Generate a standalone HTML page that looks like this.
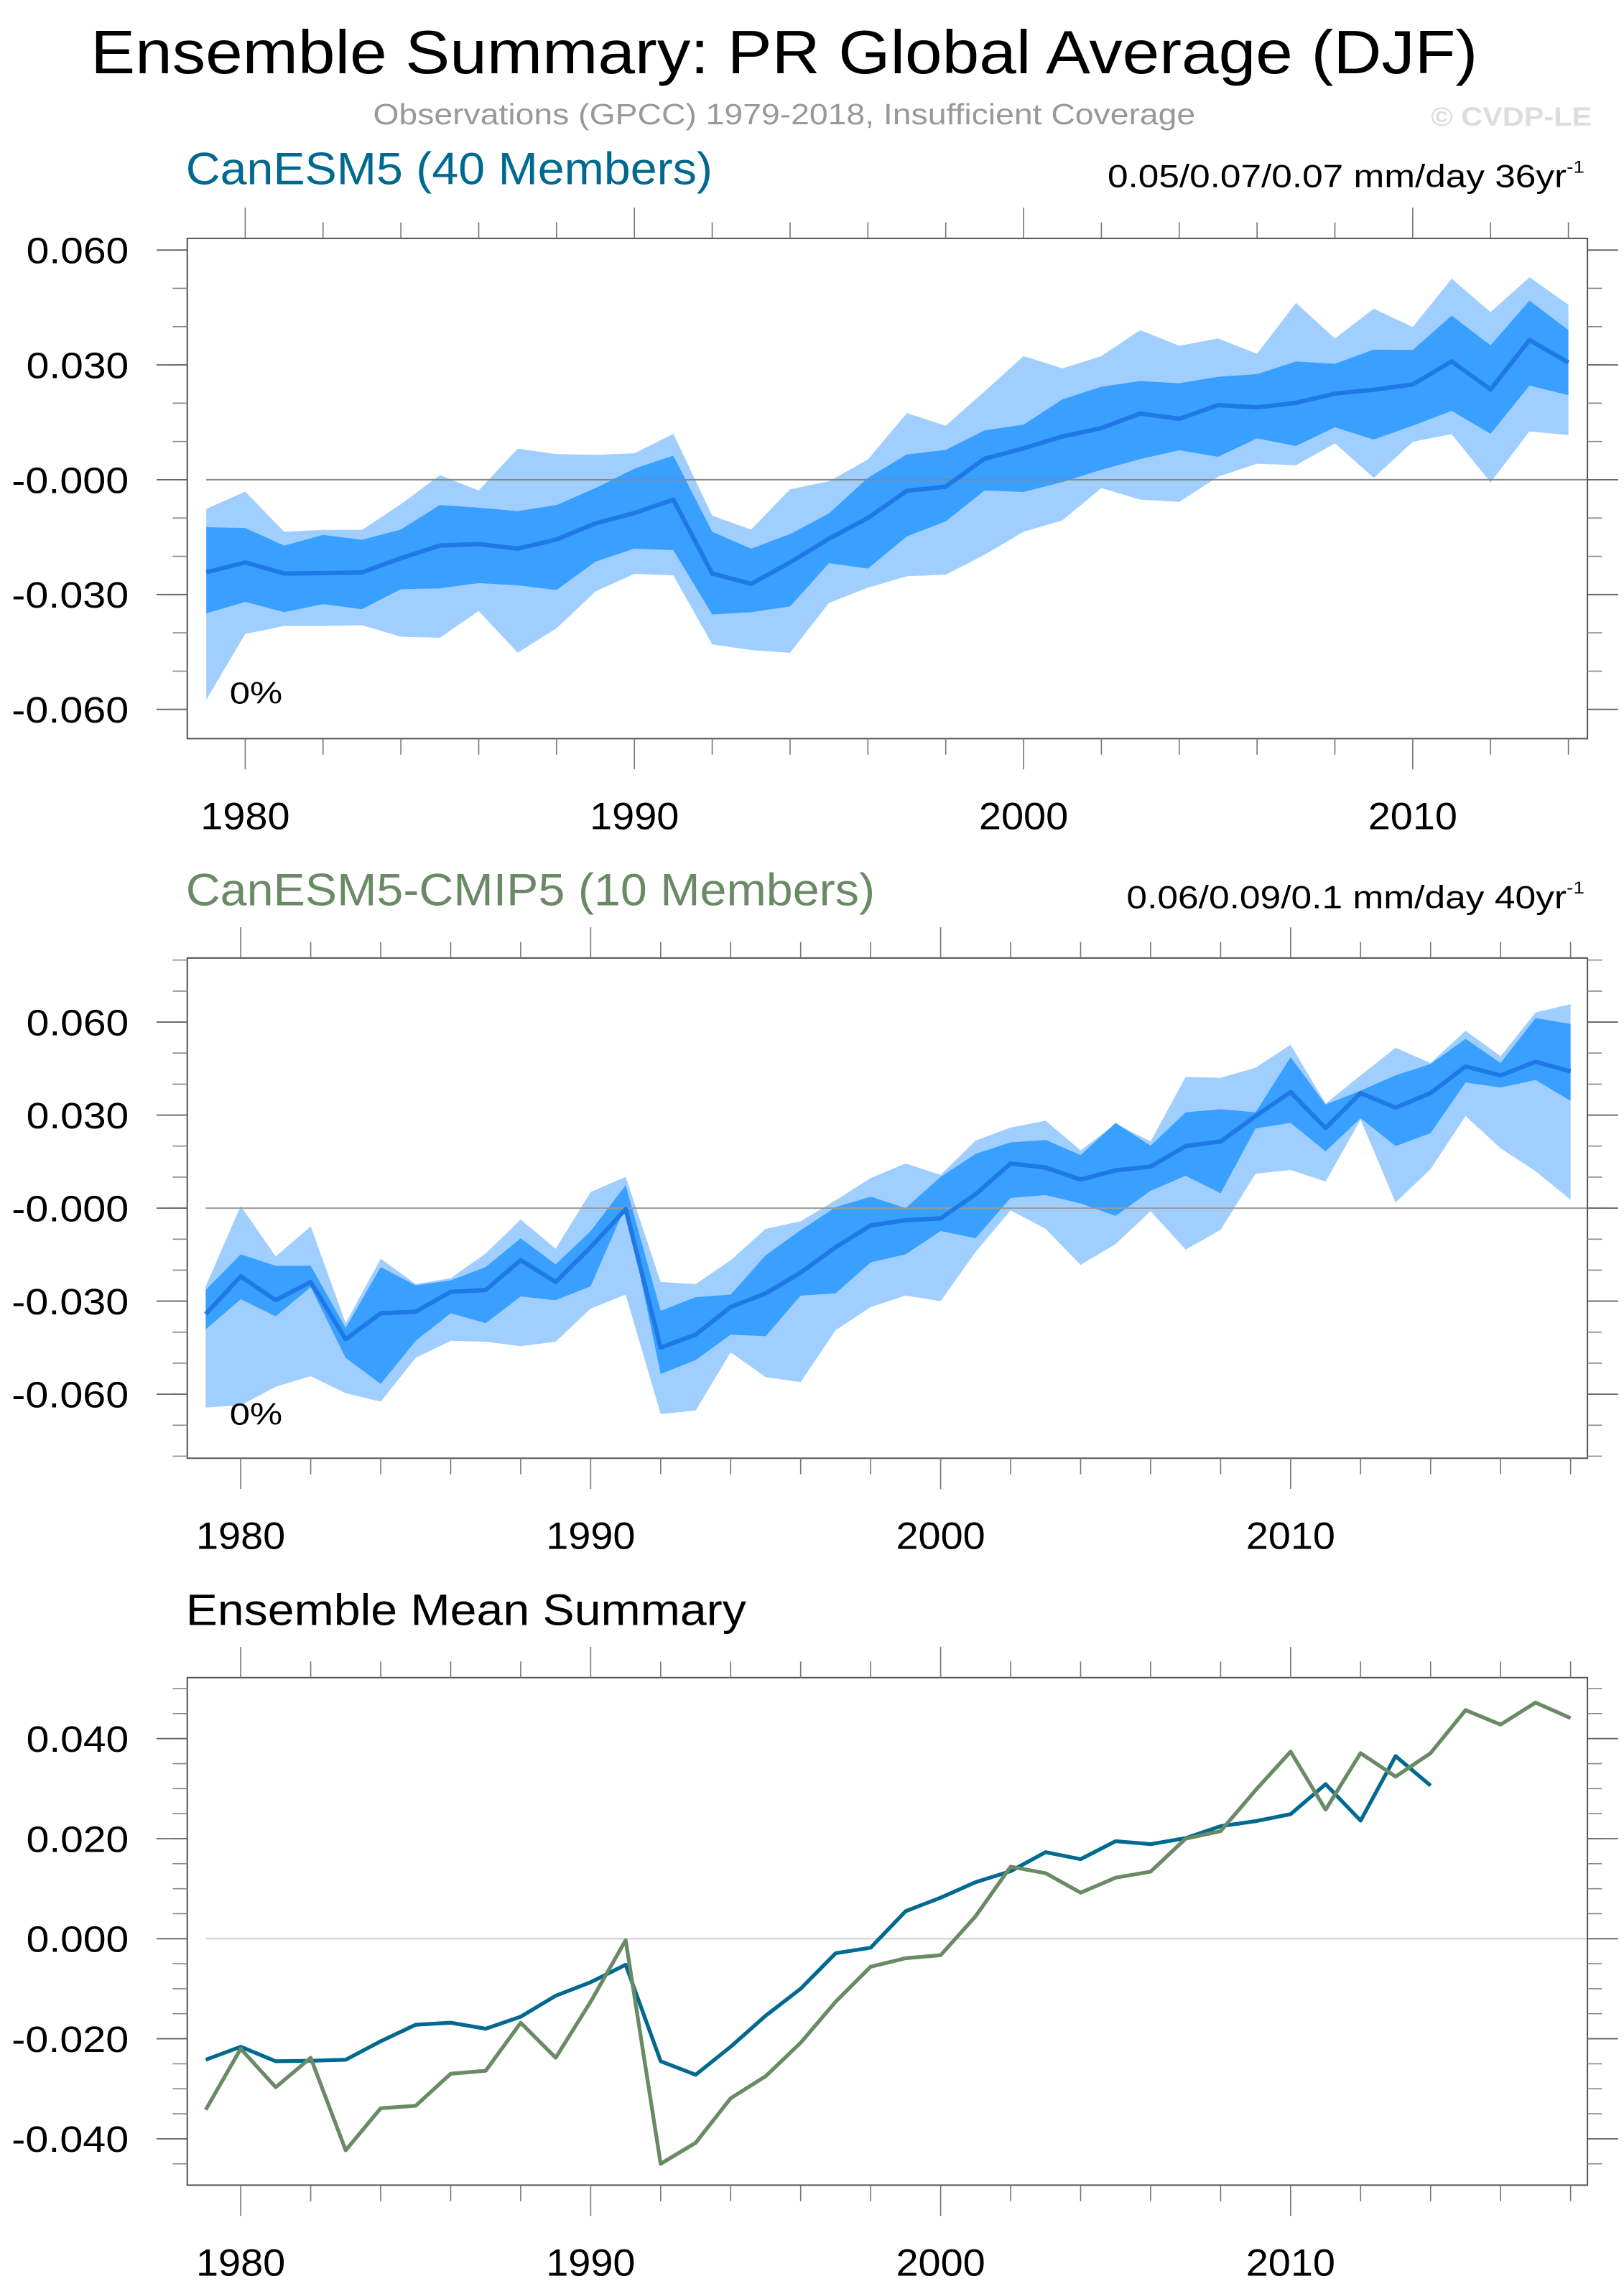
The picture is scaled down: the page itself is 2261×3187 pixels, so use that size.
<!DOCTYPE html>
<html><head><meta charset="utf-8"><style>
html,body{margin:0;padding:0;background:#fff}
svg{display:block}
text{font-family:"Liberation Sans",sans-serif}
</style></head><body>
<svg id="s" width="2261" height="3187" viewBox="0 0 1110 1565" preserveAspectRatio="none" xmlns="http://www.w3.org/2000/svg">
<text x="536" y="50" font-size="42" text-anchor="middle" textLength="948" lengthAdjust="spacingAndGlyphs">Ensemble Summary: PR Global Average (DJF)</text>
<text x="536" y="85" font-size="20" fill="#999" text-anchor="middle" textLength="562" lengthAdjust="spacingAndGlyphs">Observations (GPCC) 1979-2018, Insufficient Coverage</text>
<text x="1088" y="86" font-size="18" fill="#ddd" font-weight="bold" text-anchor="end" textLength="110" lengthAdjust="spacingAndGlyphs">© CVDP-LE</text>
<text x="127" y="126" font-size="31" fill="#00698f" textLength="360" lengthAdjust="spacingAndGlyphs">CanESM5 (40 Members)</text>
<text x="1083" y="128" font-size="22" text-anchor="end" textLength="326" lengthAdjust="spacingAndGlyphs">0.05/0.07/0.07 mm/day 36yr<tspan font-size="12" dy="-10">-1</tspan></text>
<text x="127" y="619" font-size="31" fill="#6a8a66" textLength="471" lengthAdjust="spacingAndGlyphs">CanESM5-CMIP5 (10 Members)</text>
<text x="1083" y="621" font-size="22" text-anchor="end" textLength="313" lengthAdjust="spacingAndGlyphs">0.06/0.09/0.1 mm/day 40yr<tspan font-size="12" dy="-10">-1</tspan></text>
<text x="127" y="1111" font-size="30" textLength="383" lengthAdjust="spacingAndGlyphs">Ensemble Mean Summary</text>
</svg>
<script>
const yearsA=[1979,1980,1981,1982,1983,1984,1985,1986,1987,1988,1989,1990,1991,1992,1993,1994,1995,1996,1997,1998,1999,2000,2001,2002,2003,2004,2005,2006,2007,2008,2009,2010,2011,2012,2013,2014];
const yearsB=[1979,1980,1981,1982,1983,1984,1985,1986,1987,1988,1989,1990,1991,1992,1993,1994,1995,1996,1997,1998,1999,2000,2001,2002,2003,2004,2005,2006,2007,2008,2009,2010,2011,2012,2013,2014,2015,2016,2017,2018];
const meanA=[-0.0242,-0.0216,-0.0245,-0.0244,-0.0242,-0.0205,-0.0172,-0.0168,-0.018,-0.0156,-0.0114,-0.0087,-0.0052,-0.0245,-0.0272,-0.0216,-0.0154,-0.01,-0.0029,-0.0018,0.0055,0.0082,0.0113,0.0135,0.0173,0.0159,0.0195,0.0189,0.0201,0.0225,0.0235,0.0249,0.0309,0.0236,0.0365,0.0306];
const darkHiA=[-0.0124,-0.0126,-0.0172,-0.0144,-0.0157,-0.0130,-0.0066,-0.0073,-0.0082,-0.0066,-0.0022,0.0029,0.0063,-0.0136,-0.0180,-0.0142,-0.0088,0.0005,0.0066,0.0078,0.0129,0.0144,0.0210,0.0243,0.0258,0.0252,0.0269,0.0276,0.0309,0.0303,0.0340,0.0339,0.0429,0.0351,0.0468,0.0391];
const darkLoA=[-0.0349,-0.0319,-0.0346,-0.0325,-0.0338,-0.0286,-0.0284,-0.0270,-0.0276,-0.0288,-0.0214,-0.0180,-0.0184,-0.0352,-0.0346,-0.0331,-0.0218,-0.0232,-0.0148,-0.0109,-0.0028,-0.0032,-0.0006,0.0026,0.0054,0.0077,0.0060,0.0108,0.0088,0.0137,0.0105,0.0141,0.0180,0.0120,0.0246,0.0221];
const lightHiA=[-0.0076,-0.0031,-0.0136,-0.0131,-0.0131,-0.0064,0.0012,-0.0028,0.0081,0.0067,0.0065,0.0069,0.0120,-0.0094,-0.0130,-0.0025,-0.0004,0.0053,0.0174,0.0141,0.0231,0.0323,0.0291,0.0323,0.0391,0.0350,0.0369,0.0329,0.0462,0.0369,0.0447,0.0399,0.0525,0.0438,0.0529,0.0457];
const lightLoA=[-0.0575,-0.0403,-0.0382,-0.0382,-0.0380,-0.0410,-0.0413,-0.0343,-0.0452,-0.0388,-0.0292,-0.0246,-0.0250,-0.0430,-0.0445,-0.0452,-0.0322,-0.0282,-0.0252,-0.0248,-0.0196,-0.0136,-0.0106,-0.0022,-0.0052,-0.0058,0.0008,0.0042,0.0038,0.0095,0.0005,0.0099,0.0119,-0.0007,0.0126,0.0117];
const meanB=[-0.0342,-0.0220,-0.0297,-0.0238,-0.0423,-0.0339,-0.0334,-0.0270,-0.0264,-0.0168,-0.0238,-0.0126,-0.0003,-0.0450,-0.0408,-0.0319,-0.0275,-0.0208,-0.0126,-0.0056,-0.0039,-0.0033,0.0045,0.0144,0.0131,0.0092,0.0122,0.0134,0.0200,0.0215,0.0297,0.0374,0.0258,0.0371,0.0324,0.0371,0.0457,0.0428,0.0472,0.0441];
const darkHiB=[-0.0264,-0.0149,-0.0186,-0.0186,-0.0386,-0.0190,-0.0249,-0.0233,-0.0190,-0.0097,-0.0181,-0.0074,0.0074,-0.0331,-0.0287,-0.0279,-0.0152,-0.0071,0.0003,0.0037,0.0000,0.0101,0.0175,0.0212,0.0220,0.0171,0.0275,0.0201,0.0309,0.0319,0.0309,0.0487,0.0334,0.0379,0.0428,0.0465,0.0546,0.0468,0.0613,0.0594];
const darkLoB=[-0.0391,-0.0294,-0.0349,-0.0255,-0.0483,-0.0567,-0.0428,-0.0339,-0.0371,-0.0285,-0.0297,-0.0252,0.0007,-0.0535,-0.0490,-0.0408,-0.0413,-0.0282,-0.0275,-0.0175,-0.0149,-0.0074,-0.0097,0.0033,0.0042,0.0015,-0.0025,0.0056,0.0104,0.0048,0.0257,0.0275,0.0183,0.0290,0.0200,0.0242,0.0405,0.0389,0.0413,0.0346];
const lightHiB=[-0.0252,0.0007,-0.0156,-0.0059,-0.0371,-0.0163,-0.0245,-0.0226,-0.0146,-0.0037,-0.0131,0.0052,0.0101,-0.0238,-0.0245,-0.0168,-0.0067,-0.0042,0.0025,0.0097,0.0144,0.0107,0.0218,0.0260,0.0282,0.0186,0.0272,0.0215,0.0423,0.0420,0.0453,0.0527,0.0337,0.0428,0.0517,0.0468,0.0572,0.0490,0.0631,0.0658];
const lightLoB=[-0.0643,-0.0636,-0.0576,-0.0542,-0.0597,-0.0624,-0.0483,-0.0428,-0.0431,-0.0445,-0.0431,-0.0324,-0.0279,-0.0664,-0.0653,-0.0465,-0.0545,-0.0561,-0.0394,-0.0319,-0.0282,-0.0300,-0.0141,-0.0007,-0.0067,-0.0183,-0.0116,-0.0010,-0.0134,-0.0070,0.0111,0.0123,0.0086,0.0285,0.0018,0.0126,0.0297,0.0193,0.0119,0.0027];
const yTicks12=[-0.06,-0.03,0,0.03,0.06];
const yTickLabels12=["-0.060","-0.030","-0.000","0.030","0.060"];
const yTicks3=[-0.04,-0.02,0,0.02,0.04];
const yTickLabels3=["-0.040","-0.020","0.000","0.020","0.040"];
const xTickYears=[1980,1990,2000,2010];

const svg=document.getElementById('s');
const NS='http://www.w3.org/2000/svg';
function el(tag,attrs,parent){const e=document.createElementNS(NS,tag);for(const k in attrs)e.setAttribute(k,attrs[k]);(parent||svg).appendChild(e);return e;}

function panel(p){
  const g=el('g',{});
  
  
  const L=128,R=1085;
  const X=yr=>p.x0+(yr-1979)*p.dx;
  const Y=v=>p.y0-v*p.ky;
  function band(hi,lo,fill,name){
    let pts=p.years.map((yr,i)=>X(yr)+','+Y(hi[i]));
    pts=pts.concat(p.years.map((yr,i)=>X(yr)+','+Y(lo[i])).reverse());
    const e=el('polygon',{points:pts.join(' '),fill:fill},g);
    
    
  }
  if(p.lightHi){band(p.lightHi,p.lightLo,'#a0cfff','band-light');band(p.darkHi,p.darkLo,'#3aa0ff','band-dark');}
  const z=el('line',{x1:X(1979),x2:R,y1:Y(0),y2:Y(0),stroke:p.zeroColor,'stroke-width':1},g);
  
  
  p.lines.forEach(ln=>{
    const e=el('polyline',{points:ln.years.map((yr,i)=>X(yr)+','+Y(ln.vals[i])).join(' '),fill:'none',stroke:ln.color,'stroke-width':ln.w,'stroke-linejoin':'round'},g);
    
    
  });
  const b=el('rect',{x:L,y:p.top,width:R-L,height:p.bot-p.top,fill:'none',stroke:'#555','stroke-width':1},g);
  
  
  for(let yr=1980;yr<=p.lastYear;yr+=2){
    const maj=(yr%10===0);const len=maj?21:11;
    el('line',{x1:X(yr),x2:X(yr),y1:p.top,y2:p.top-len,stroke:'#777','stroke-width':0.8},g);
    el('line',{x1:X(yr),x2:X(yr),y1:p.bot,y2:p.bot+len,stroke:'#777','stroke-width':0.8},g);
  }
  xTickYears.forEach(yr=>{
    const t=el('text',{x:X(yr),y:p.bot+62,'font-size':26,'text-anchor':'middle',textLength:61,lengthAdjust:'spacingAndGlyphs'},g);
    t.textContent=yr;
    
    
  });
  for(let v=p.minorStart;v<=p.minorEnd+1e-9;v+=p.minorStep){
    const y=Y(v);if(y<p.top||y>p.bot)continue;
    el('line',{x1:L,x2:L-10,y1:y,y2:y,stroke:'#888','stroke-width':0.8},g);
    el('line',{x1:R,x2:R+10,y1:y,y2:y,stroke:'#888','stroke-width':0.8},g);
  }
  p.yTicks.forEach((v,i)=>{
    const y=Y(v);
    el('line',{x1:L,x2:L-21,y1:y,y2:y,stroke:'#666','stroke-width':0.9},g);
    el('line',{x1:R,x2:R+21,y1:y,y2:y,stroke:'#666','stroke-width':0.9},g);
    const lab=p.yLabels[i];
    const t=el('text',{x:88,y:y+9,'font-size':25,'text-anchor':'end',textLength:(lab[0]==='-'?80:70),lengthAdjust:'spacingAndGlyphs'},g);
    t.textContent=lab;
    
    
  });
  if(p.pct){
    const t=el('text',{x:157,y:p.pct,'font-size':21,textLength:36,lengthAdjust:'spacingAndGlyphs'},g);
    t.textContent='0%';
    
    
  }
}
panel({name:'panel-canesm5',years:yearsA,lastYear:2014,x0:141,dx:26.6,y0:328,ky:2617,top:163,bot:505,
  lightHi:lightHiA,lightLo:lightLoA,darkHi:darkHiA,darkLo:darkLoA,zeroColor:'#888',
  lines:[{years:yearsA,vals:meanA,color:'#1e78e6',w:3,name:'ensemble-mean-line'}],
  yTicks:yTicks12,yLabels:yTickLabels12,minorStart:-0.07,minorEnd:0.07,minorStep:0.01,pct:481});
panel({name:'panel-canesm5-cmip5',years:yearsB,lastYear:2018,x0:140.6,dx:23.92,y0:826,ky:2120,top:655,bot:997,
  lightHi:lightHiB,lightLo:lightLoB,darkHi:darkHiB,darkLo:darkLoB,zeroColor:'#999',
  lines:[{years:yearsB,vals:meanB,color:'#1e78e6',w:3,name:'ensemble-mean-line'}],
  yTicks:yTicks12,yLabels:yTickLabels12,minorStart:-0.08,minorEnd:0.08,minorStep:0.01,pct:974});
panel({name:'panel-ensemble-mean-summary',years:yearsB,lastYear:2018,x0:140.6,dx:23.92,y0:1325.5,ky:3420,top:1147,bot:1494,
  zeroColor:'#ccc',
  lines:[{years:yearsA,vals:meanA,color:'#00698f',w:2.6,name:'canesm5-mean-line'},{years:yearsB,vals:meanB,color:'#6a8a66',w:2.6,name:'canesm5-cmip5-mean-line'}],
  yTicks:yTicks3,yLabels:yTickLabels3,minorStart:-0.05,minorEnd:0.05,minorStep:0.005});
</script>
</body></html>
